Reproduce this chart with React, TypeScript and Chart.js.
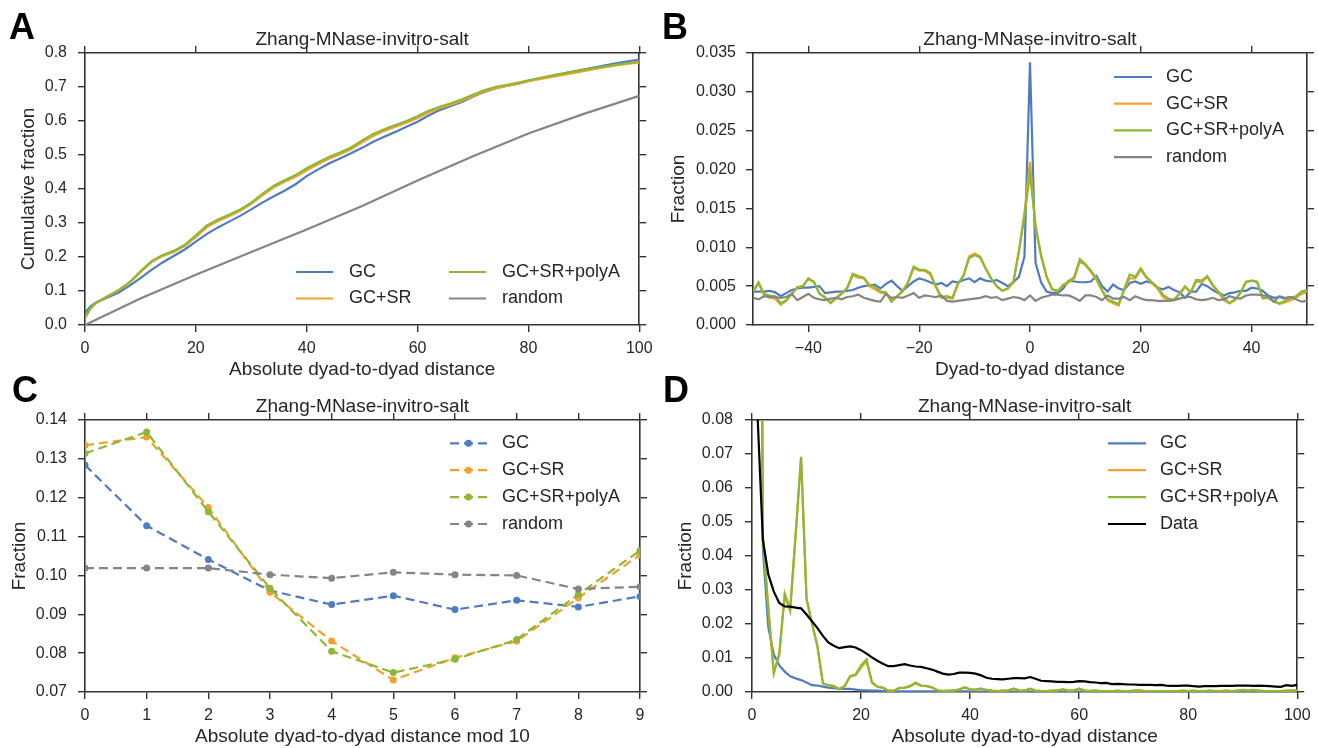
import React, { useEffect, useRef } from 'react';
import { Chart, registerables } from 'chart.js';

Chart.register(...registerables);

const FONT = "'Liberation Sans', Arial, Helvetica, sans-serif";
const TEXT = '#262626';
const SPINE = '#333333';
const BLUE = '#4f7cc0';
const ORANGE = '#f2a12a';
const GREEN = '#8cb834';
const GRAY = '#858585';
const BLACK = '#000000';
const LABEL_SIZE = 19;

const PANEL_TITLE = 'Zhang-MNase-invitro-salt';
const SERIES_NAMES = ['GC', 'GC+SR', 'GC+SR+polyA', 'random'];
const D_SERIES_NAMES = ['GC', 'GC+SR', 'GC+SR+polyA', 'Data'];

// ---------- Panel A : cumulative fraction ----------
const A_X = [0, 1, 2, 4, 6, 8, 10, 12, 14, 16, 18, 20, 22, 24, 26, 28, 30, 32, 34, 36, 38, 40, 42, 44, 46, 48, 50, 52, 54, 56, 58, 60, 62, 64, 66, 68, 70, 72, 74, 76, 78, 80, 84, 88, 92, 96, 100];
const A_GC = [0.035, 0.055, 0.066, 0.08, 0.095, 0.115, 0.138, 0.162, 0.184, 0.203, 0.222, 0.245, 0.268, 0.287, 0.304, 0.321, 0.34, 0.36, 0.378, 0.395, 0.414, 0.438, 0.457, 0.475, 0.49, 0.505, 0.521, 0.539, 0.554, 0.568, 0.583, 0.598, 0.616, 0.632, 0.644, 0.656, 0.671, 0.685, 0.696, 0.703, 0.709, 0.718, 0.732, 0.745, 0.758, 0.77, 0.781];
const A_GCSR = [0.02, 0.048, 0.064, 0.083, 0.101, 0.123, 0.155, 0.185, 0.203, 0.215, 0.232, 0.259, 0.288, 0.306, 0.32, 0.336, 0.356, 0.381, 0.404, 0.421, 0.436, 0.455, 0.473, 0.489, 0.502, 0.517, 0.537, 0.556, 0.571, 0.583, 0.595, 0.609, 0.625, 0.638, 0.648, 0.66, 0.673, 0.686, 0.696, 0.703, 0.709, 0.717, 0.729, 0.741, 0.753, 0.764, 0.772];
const A_POLYA = [0.022, 0.05, 0.066, 0.084, 0.102, 0.125, 0.158, 0.188, 0.206, 0.218, 0.236, 0.264, 0.293, 0.31, 0.324, 0.34, 0.36, 0.386, 0.409, 0.426, 0.441, 0.461, 0.478, 0.494, 0.507, 0.522, 0.543, 0.562, 0.576, 0.588, 0.6, 0.614, 0.63, 0.642, 0.652, 0.664, 0.677, 0.69, 0.7, 0.706, 0.712, 0.72, 0.733, 0.745, 0.756, 0.766, 0.775];
const A_RANDOM_X = [0, 10, 20, 30, 40, 50, 60, 70, 80, 90, 100];
const A_RANDOM = [0.0, 0.078, 0.148, 0.215, 0.281, 0.35, 0.425, 0.496, 0.563, 0.621, 0.674];
const A_XTICKS = [0, 20, 40, 60, 80, 100];
const A_YTICKS = [0, 0.1, 0.2, 0.3, 0.4, 0.5, 0.6, 0.7, 0.8];

// ---------- Panel B : dyad-to-dyad distance ----------
const B_X = [-50, -49, -48, -47, -46, -45, -44, -43, -42, -41, -40, -39, -38, -37, -36, -35, -34, -33, -32, -31, -30, -29, -28, -27, -26, -25, -24, -23, -22, -21, -20, -19, -18, -17, -16, -15, -14, -13, -12, -11, -10, -9, -8, -7, -6, -5, -4, -3, -2, -1, 0, 1, 2, 3, 4, 5, 6, 7, 8, 9, 10, 11, 12, 13, 14, 15, 16, 17, 18, 19, 20, 21, 22, 23, 24, 25, 26, 27, 28, 29, 30, 31, 32, 33, 34, 35, 36, 37, 38, 39, 40, 41, 42, 43, 44, 45, 46, 47, 48, 49, 50];
const B_GC = [
  0.0043, 0.0043, 0.0043, 0.0044, 0.0042, 0.0037, 0.0041, 0.0045, 0.0047, 0.0048,
  0.0048, 0.0049, 0.0050, 0.0041, 0.0042, 0.0043, 0.0043, 0.0044, 0.0045, 0.0048,
  0.0050, 0.0051, 0.0052, 0.0047, 0.0053, 0.0057, 0.0050, 0.0044, 0.0050, 0.0056,
  0.0060, 0.0058, 0.0055, 0.0052, 0.0054, 0.0050, 0.0056, 0.0055, 0.0058, 0.0060,
  0.0055, 0.0060, 0.0057, 0.0056, 0.0058, 0.0054, 0.0050, 0.0055, 0.0062, 0.0088,
  0.0338,
  0.0080, 0.0055, 0.0043, 0.0041, 0.0041, 0.0047, 0.0057, 0.0056, 0.0055, 0.0055,
  0.0056, 0.0063, 0.0050, 0.0043, 0.0052, 0.0047, 0.0045, 0.0054, 0.0056, 0.0053,
  0.0056, 0.0054, 0.0048, 0.0046, 0.0049, 0.0045, 0.0042, 0.0035, 0.0043, 0.0043,
  0.0053, 0.0050, 0.0045, 0.0041, 0.0038, 0.0041, 0.0042, 0.0044, 0.0044, 0.0048,
  0.0047, 0.0044, 0.0038, 0.0035, 0.0036, 0.0034, 0.0036, 0.0036, 0.0040, 0.0043,
];
const B_GCSR = [
  0.0043, 0.0053, 0.0038, 0.0035, 0.0034, 0.0026, 0.0031, 0.0040, 0.0048, 0.0050,
  0.0059, 0.0056, 0.0041, 0.0035, 0.0029, 0.0035, 0.0041, 0.0047, 0.0064, 0.0061,
  0.0060, 0.0050, 0.0046, 0.0042, 0.0040, 0.0031, 0.0037, 0.0044, 0.0055, 0.0073,
  0.0070, 0.0070, 0.0065, 0.0049, 0.0035, 0.0035, 0.0034, 0.0053, 0.0064, 0.0088,
  0.0092, 0.0088, 0.0072, 0.0059, 0.0050, 0.0044, 0.0047, 0.0056, 0.0095, 0.0145,
  0.0210,
  0.0125, 0.0088, 0.0062, 0.0046, 0.0044, 0.0051, 0.0055, 0.0060, 0.0082, 0.0077,
  0.0068, 0.0058, 0.0044, 0.0032, 0.0028, 0.0025, 0.0045, 0.0060, 0.0060, 0.0071,
  0.0061, 0.0054, 0.0047, 0.0036, 0.0031, 0.0033, 0.0040, 0.0049, 0.0042, 0.0056,
  0.0055, 0.0062, 0.0050, 0.0042, 0.0032, 0.0028, 0.0032, 0.0041, 0.0056, 0.0057,
  0.0056, 0.0034, 0.0035, 0.0031, 0.0027, 0.0029, 0.0032, 0.0035, 0.0040, 0.0044,
];
const B_POLYA = [
  0.0043, 0.0055, 0.0040, 0.0038, 0.0037, 0.0028, 0.0032, 0.0040, 0.0049, 0.0050,
  0.0060, 0.0055, 0.0040, 0.0036, 0.0028, 0.0034, 0.0040, 0.0048, 0.0066, 0.0063,
  0.0061, 0.0052, 0.0049, 0.0043, 0.0042, 0.0030, 0.0037, 0.0043, 0.0055, 0.0075,
  0.0071, 0.0071, 0.0067, 0.0050, 0.0036, 0.0037, 0.0035, 0.0053, 0.0063, 0.0086,
  0.0090, 0.0087, 0.0073, 0.0060, 0.0050, 0.0044, 0.0047, 0.0055, 0.0095, 0.0140,
  0.0195,
  0.0128, 0.0090, 0.0062, 0.0046, 0.0043, 0.0052, 0.0056, 0.0062, 0.0085, 0.0078,
  0.0070, 0.0060, 0.0045, 0.0033, 0.0030, 0.0027, 0.0046, 0.0065, 0.0062, 0.0073,
  0.0062, 0.0055, 0.0049, 0.0039, 0.0034, 0.0032, 0.0040, 0.0050, 0.0042, 0.0058,
  0.0057, 0.0063, 0.0052, 0.0043, 0.0035, 0.0028, 0.0033, 0.0042, 0.0055, 0.0057,
  0.0055, 0.0035, 0.0035, 0.0030, 0.0028, 0.0031, 0.0035, 0.0037, 0.0043, 0.0045,
];
const B_RANDOM = [
  0.0035, 0.0033, 0.0037, 0.0036, 0.0036, 0.0035, 0.0036, 0.0040, 0.0032, 0.0036,
  0.0040, 0.0035, 0.0033, 0.0032, 0.0034, 0.0035, 0.0033, 0.0036, 0.0037, 0.0039,
  0.0035, 0.0033, 0.0031, 0.0030, 0.0040, 0.0035, 0.0036, 0.0035, 0.0038, 0.0041,
  0.0035, 0.0038, 0.0037, 0.0036, 0.0038, 0.0031, 0.0030, 0.0031, 0.0032, 0.0033,
  0.0034, 0.0035, 0.0037, 0.0035, 0.0036, 0.0032, 0.0034, 0.0036, 0.0035, 0.0032,
  0.0038,
  0.0031, 0.0035, 0.0037, 0.0039, 0.0039, 0.0038, 0.0038, 0.0035, 0.0031, 0.0038,
  0.0038, 0.0036, 0.0032, 0.0038, 0.0034, 0.0034, 0.0036, 0.0032, 0.0037, 0.0034,
  0.0032, 0.0032, 0.0031, 0.0031, 0.0031, 0.0032, 0.0034, 0.0036, 0.0036, 0.0033,
  0.0032, 0.0033, 0.0035, 0.0032, 0.0033, 0.0037, 0.0035, 0.0034, 0.0038, 0.0039,
  0.0039, 0.0038, 0.0037, 0.0030, 0.0037, 0.0035, 0.0036, 0.0033, 0.0030, 0.0031,
];
const B_XTICKS = [-40, -20, 0, 20, 40];
const B_YTICKS = [0, 0.005, 0.01, 0.015, 0.02, 0.025, 0.03, 0.035];

// ---------- Panel C : distance mod 10 ----------
const C_X = [0, 1, 2, 3, 4, 5, 6, 7, 8, 9];
const C_GC = [0.1284, 0.1128, 0.1041, 0.0961, 0.0925, 0.0948, 0.0912, 0.0936, 0.0919, 0.0946];
const C_GCSR = [0.1335, 0.1356, 0.1175, 0.0957, 0.0831, 0.0731, 0.0788, 0.0831, 0.0942, 0.1053];
const C_POLYA = [0.1314, 0.1369, 0.1164, 0.0967, 0.0805, 0.0750, 0.0784, 0.0835, 0.0951, 0.1064];
const C_RANDOM = [0.1019, 0.1019, 0.1019, 0.1002, 0.0993, 0.1008, 0.1002, 0.1000, 0.0965, 0.0971];
const C_XTICKS = [0, 1, 2, 3, 4, 5, 6, 7, 8, 9];
const C_YTICKS = [0.07, 0.08, 0.09, 0.1, 0.11, 0.12, 0.13, 0.14];

// ---------- Panel D : absolute distance ----------
const D_X = [1, 2, 3, 4, 5, 6, 7, 8, 9, 10, 11, 12, 13, 14, 15, 16, 17, 18, 19, 20, 21, 22, 23, 24, 25, 26, 27, 28, 29, 30, 31, 32, 33, 34, 35, 36, 37, 38, 39, 40, 41, 42, 43, 44, 45, 46, 47, 48, 49, 50, 51, 52, 53, 54, 55, 56, 57, 58, 59, 60, 61, 62, 63, 64, 65, 66, 67, 68, 69, 70, 71, 72, 73, 74, 75, 76, 77, 78, 79, 80, 81, 82, 83, 84, 85, 86, 87, 88, 89, 90, 91, 92, 93, 94, 95, 96, 97, 98, 99, 100];
const D_GC = [
  0.30, 0.042, 0.019, 0.011, 0.0078, 0.0060, 0.0046, 0.0040, 0.0035, 0.0028,
  0.0020, 0.0019, 0.0016, 0.0013, 0.0011, 0.0009, 0.0009, 0.0009, 0.0007, 0.0005,
  0.0005, 0.0004, 0.0004, 0.0003, 0.0003, 0.0003, 0.0002, 0.0002, 0.0002, 0.0002,
  0.0002, 0.0002, 0.0002, 0.0002, 0.0002, 0.0002, 0.0002, 0.0002, 0.0002, 0.0002,
  0.0001, 0.0001, 0.0001, 0.0001, 0.0001, 0.0001, 0.0001, 0.0001, 0.0001, 0.0001,
  0.0001, 0.0001, 0.0001, 0.0001, 0.0001, 0.0001, 0.0001, 0.0001, 0.0001, 0.0001,
  0.0001, 0.0001, 0.0001, 0.0001, 0.0001, 0.0001, 0.0001, 0.0001, 0.0001, 0.0001,
  0.0001, 0.0001, 0.0001, 0.0001, 0.0001, 0.0001, 0.0001, 0.0001, 0.0001, 0.0001,
  0.0001, 0.0001, 0.0001, 0.0001, 0.0001, 0.0001, 0.0001, 0.0001, 0.0001, 0.0001,
  0.0001, 0.0001, 0.0001, 0.0001, 0.0001, 0.0001, 0.0001, 0.0001, 0.0001, 0.0001,
];
const D_GCSR = [
  0.30, 0.046, 0.025, 0.0057, 0.0110, 0.0290, 0.0245, 0.0465, 0.0690, 0.0272,
  0.0200, 0.0133, 0.0025, 0.0019, 0.0017, 0.0008, 0.0017, 0.0045, 0.0049, 0.0072,
  0.0091, 0.0027, 0.0015, 0.0012, 0.0004, 0.0004, 0.0011, 0.0012, 0.0016, 0.0025,
  0.0018, 0.0017, 0.0013, 0.0005, 0.0003, 0.0004, 0.0005, 0.0007, 0.0013, 0.0008,
  0.0007, 0.0010, 0.0006, 0.0004, 0.0003, 0.0004, 0.0005, 0.0010, 0.0005, 0.0004,
  0.0010, 0.0004, 0.0003, 0.0003, 0.0004, 0.0005, 0.0008, 0.0004, 0.0005, 0.0010,
  0.0004, 0.0003, 0.0005, 0.0002, 0.0003, 0.0002, 0.0004, 0.0003, 0.0002, 0.0004,
  0.0005, 0.0003, 0.0002, 0.0003, 0.0002, 0.0003, 0.0002, 0.0003, 0.0004, 0.0003,
  0.0004, 0.0002, 0.0003, 0.0004, 0.0003, 0.0003, 0.0004, 0.0003, 0.0004, 0.0006,
  0.0005, 0.0006, 0.0004, 0.0003, 0.0002, 0.0003, 0.0003, 0.0004, 0.0004, 0.0005,
];
const D_POLYA = [
  0.30, 0.045, 0.024, 0.0055, 0.0112, 0.0284, 0.0238, 0.0460, 0.0692, 0.0276,
  0.0203, 0.0136, 0.0026, 0.0020, 0.0018, 0.0008, 0.0018, 0.0047, 0.0051, 0.0078,
  0.0096, 0.0029, 0.0016, 0.0013, 0.0004, 0.0004, 0.0012, 0.0013, 0.0018, 0.0028,
  0.0019, 0.0018, 0.0014, 0.0005, 0.0003, 0.0004, 0.0005, 0.0007, 0.0014, 0.0008,
  0.0007, 0.0010, 0.0006, 0.0004, 0.0003, 0.0004, 0.0005, 0.0010, 0.0005, 0.0004,
  0.0010, 0.0004, 0.0003, 0.0003, 0.0004, 0.0005, 0.0008, 0.0004, 0.0005, 0.0010,
  0.0004, 0.0003, 0.0005, 0.0002, 0.0003, 0.0002, 0.0004, 0.0003, 0.0002, 0.0004,
  0.0005, 0.0003, 0.0002, 0.0003, 0.0002, 0.0003, 0.0002, 0.0003, 0.0004, 0.0003,
  0.0004, 0.0002, 0.0003, 0.0004, 0.0003, 0.0003, 0.0004, 0.0003, 0.0004, 0.0006,
  0.0005, 0.0006, 0.0004, 0.0003, 0.0002, 0.0003, 0.0003, 0.0004, 0.0004, 0.0005,
];
const D_DATA = [
  0.082, 0.0447, 0.0345, 0.0295, 0.0262, 0.0252, 0.0251, 0.0248, 0.0246, 0.0228,
  0.0208, 0.0188, 0.0165, 0.0146, 0.0136, 0.0129, 0.0132, 0.0134, 0.0131, 0.0123,
  0.0113, 0.0102, 0.0092, 0.0083, 0.0076, 0.0076, 0.0079, 0.0082, 0.0078, 0.0075,
  0.0074, 0.0070, 0.0066, 0.0060, 0.0054, 0.0051, 0.0053, 0.0057, 0.0057, 0.0056,
  0.0054, 0.0049, 0.0042, 0.0039, 0.0038, 0.0037, 0.0039, 0.0041, 0.0041, 0.0040,
  0.0044, 0.0039, 0.0033, 0.0032, 0.0031, 0.0030, 0.0030, 0.0029, 0.0030, 0.0032,
  0.0031, 0.0029, 0.0028, 0.0026, 0.0027, 0.0023, 0.0024, 0.0023, 0.0022, 0.0022,
  0.0021, 0.0021, 0.0021, 0.0020, 0.0021, 0.0019, 0.0018, 0.0018, 0.0019, 0.0019,
  0.0017, 0.0016, 0.0017, 0.0017, 0.0017, 0.0018, 0.0018, 0.0018, 0.0019, 0.0019,
  0.0019, 0.0018, 0.0019, 0.0018, 0.0017, 0.0016, 0.0015, 0.0020, 0.0018, 0.0021,
];
const D_XTICKS = [0, 20, 40, 60, 80, 100];
const D_YTICKS = [0, 0.01, 0.02, 0.03, 0.04, 0.05, 0.06, 0.07, 0.08];

// ---------- helpers ----------
const pts = (xs: number[], ys: number[]) => xs.map((x, i) => ({ x, y: ys[i] }));
const minus = (v: number) => (v < 0 ? '\u2212' + Math.abs(v) : String(v));

type Frame = {
  w: number; h: number; left: number; right: number; top: number; bottom: number;
  titlePadTop: number; xTitlePad: number; yTitlePad: number; yTickPad: number;
};
type AxisSpec = {
  xMin: number; xMax: number; xTicks: number[]; xFmt: (v: number) => string; xTitle: string;
  yMin: number; yMax: number; yTicks: number[]; yFmt: (v: number) => string; yTitle: string;
};

function buildScales(f: Frame, a: AxisSpec) {
  const grid = { display: true, drawOnChartArea: false, drawTicks: true, tickLength: 7, color: SPINE, tickColor: SPINE, lineWidth: 1.4, tickWidth: 1.4 };
  const border = { display: true, color: SPINE, width: 1.6 };
  const tickFont = { family: FONT, size: 16 };
  const labelFont = { family: FONT, size: LABEL_SIZE };
  const titleH = f.titlePadTop + LABEL_SIZE * 1.2;
  const setX = (s: any) => { s.ticks = a.xTicks.map((v) => ({ value: v })); };
  const setY = (s: any) => { s.ticks = a.yTicks.map((v) => ({ value: v })); };
  return {
    x: {
      type: 'linear', position: 'bottom', min: a.xMin, max: a.xMax, afterBuildTicks: setX, grid, border,
      ticks: { font: tickFont, color: TEXT, padding: 7.4, maxRotation: 0, autoSkip: false, callback: (v: any) => a.xFmt(Number(v)) },
      title: { display: true, text: a.xTitle, font: labelFont, color: TEXT, padding: { top: 0, bottom: f.xTitlePad } },
      afterFit: (s: any) => { s.height = f.h - f.bottom; },
    },
    x2: {
      type: 'linear', position: 'top', min: a.xMin, max: a.xMax, afterBuildTicks: setX, grid, border,
      ticks: { display: false },
      afterFit: (s: any) => { s.height = Math.max(0, f.top - titleH); },
    },
    y: {
      type: 'linear', position: 'left', min: a.yMin, max: a.yMax, afterBuildTicks: setY, grid, border,
      ticks: { font: tickFont, color: TEXT, padding: f.yTickPad, autoSkip: false, callback: (v: any) => a.yFmt(Number(v)) },
      title: { display: true, text: a.yTitle, font: labelFont, color: TEXT, padding: { top: f.yTitlePad, bottom: 0 } },
      afterFit: (s: any) => { s.width = f.left; },
    },
    y2: {
      type: 'linear', position: 'right', min: a.yMin, max: a.yMax, afterBuildTicks: setY, grid, border,
      ticks: { display: false },
      afterFit: (s: any) => { s.width = f.w - f.right; },
    },
  };
}

const insideLegend = {
  id: 'insideLegend',
  afterDraw(chart: any, _args: any, opts: any) {
    if (!opts || !opts.rows) return;
    const ctx = chart.ctx as CanvasRenderingContext2D;
    ctx.save();
    ctx.font = `18px ${FONT}`;
    ctx.textBaseline = 'middle';
    ctx.textAlign = 'left';
    chart.data.datasets.forEach((d: any, i: number) => {
      const col = Math.floor(i / opts.rows);
      const row = i % opts.rows;
      const x0 = opts.x + col * (opts.colStep || 0);
      const y = opts.y + row * opts.rowStep;
      ctx.strokeStyle = d.borderColor;
      ctx.lineWidth = d.borderWidth;
      ctx.setLineDash(d.borderDash || []);
      ctx.beginPath();
      ctx.moveTo(x0, y);
      ctx.lineTo(x0 + opts.lineLen, y);
      ctx.stroke();
      ctx.setLineDash([]);
      if (d.pointRadius) {
        ctx.fillStyle = d.borderColor;
        ctx.beginPath();
        ctx.arc(x0 + opts.lineLen / 2, y, d.pointRadius, 0, Math.PI * 2);
        ctx.fill();
      }
      ctx.fillStyle = TEXT;
      ctx.fillText(d.label, x0 + opts.lineLen + opts.gap, y);
    });
    ctx.restore();
  },
};

function lineSet(label: string, data: any[], color: string, order: number, dashed = false) {
  return {
    label, data, borderColor: color, backgroundColor: color, borderWidth: 2.2,
    pointRadius: dashed ? 3.5 : 0, pointBorderWidth: 0, pointBackgroundColor: color,
    borderDash: dashed ? [9, 5] : [], tension: 0, fill: false, order,
  };
}

function makeConfig(f: Frame, a: AxisSpec, datasets: any[], legend: any) {
  return {
    type: 'line',
    data: { datasets },
    options: {
      responsive: false, animation: false, events: [],
      layout: { padding: 0 },
      scales: buildScales(f, a),
      plugins: {
        legend: { display: false },
        tooltip: { enabled: false },
        title: {
          display: true, text: PANEL_TITLE, fullSize: false, color: TEXT,
          font: { family: FONT, size: LABEL_SIZE, weight: 'normal' },
          padding: { top: f.titlePadTop, bottom: 0 },
        },
        insideLegend: legend,
      },
    },
    plugins: [insideLegend],
  } as any;
}

const FRAME_A: Frame = { w: 660, h: 385, left: 85, right: 640, top: 53, bottom: 325, titlePadTop: 28.3, xTitlePad: 4.1, yTitlePad: 16.9, yTickPad: 11 };
const FRAME_B: Frame = { w: 658, h: 385, left: 93, right: 647, top: 53, bottom: 325, titlePadTop: 28.3, xTitlePad: 4.1, yTitlePad: 7.6, yTickPad: 10 };
const FRAME_C: Frame = { w: 660, h: 363, left: 85, right: 640, top: 35, bottom: 307, titlePadTop: 10.6, xTitlePad: 0, yTitlePad: 8, yTickPad: 11 };
const FRAME_D: Frame = { w: 658, h: 363, left: 92, right: 642, top: 35, bottom: 307, titlePadTop: 10.6, xTitlePad: 0, yTitlePad: 14.6, yTickPad: 12 };

export default function App() {
  const refA = useRef<HTMLCanvasElement>(null);
  const refB = useRef<HTMLCanvasElement>(null);
  const refC = useRef<HTMLCanvasElement>(null);
  const refD = useRef<HTMLCanvasElement>(null);

  useEffect(() => {
    const charts: Chart[] = [];
    charts.push(new Chart(refA.current!, makeConfig(FRAME_A, {
      xMin: 0, xMax: 100, xTicks: A_XTICKS, xFmt: (v) => String(v), xTitle: 'Absolute dyad-to-dyad distance',
      yMin: 0, yMax: 0.8, yTicks: A_YTICKS, yFmt: (v) => v.toFixed(1), yTitle: 'Cumulative fraction',
    }, [
      lineSet(SERIES_NAMES[0], pts(A_X, A_GC), BLUE, 3),
      lineSet(SERIES_NAMES[1], pts(A_X, A_GCSR), ORANGE, 2),
      lineSet(SERIES_NAMES[2], pts(A_X, A_POLYA), GREEN, 1),
      lineSet(SERIES_NAMES[3], pts(A_RANDOM_X, A_RANDOM), GRAY, 0),
    ], { rows: 2, x: 296, y: 272, rowStep: 26.5, colStep: 153, lineLen: 37, gap: 16 })));

    charts.push(new Chart(refB.current!, makeConfig(FRAME_B, {
      xMin: -50, xMax: 50, xTicks: B_XTICKS, xFmt: minus, xTitle: 'Dyad-to-dyad distance',
      yMin: 0, yMax: 0.035, yTicks: B_YTICKS, yFmt: (v) => v.toFixed(3), yTitle: 'Fraction',
    }, [
      lineSet(SERIES_NAMES[0], pts(B_X, B_GC), BLUE, 3),
      lineSet(SERIES_NAMES[1], pts(B_X, B_GCSR), ORANGE, 2),
      lineSet(SERIES_NAMES[2], pts(B_X, B_POLYA), GREEN, 1),
      lineSet(SERIES_NAMES[3], pts(B_X, B_RANDOM), GRAY, 0),
    ], { rows: 4, x: 454, y: 77, rowStep: 26.7, lineLen: 38, gap: 14 })));

    charts.push(new Chart(refC.current!, makeConfig(FRAME_C, {
      xMin: 0, xMax: 9, xTicks: C_XTICKS, xFmt: (v) => String(v), xTitle: 'Absolute dyad-to-dyad distance mod 10',
      yMin: 0.07, yMax: 0.14, yTicks: C_YTICKS, yFmt: (v) => v.toFixed(2), yTitle: 'Fraction',
    }, [
      lineSet(SERIES_NAMES[0], pts(C_X, C_GC), BLUE, 3, true),
      lineSet(SERIES_NAMES[1], pts(C_X, C_GCSR), ORANGE, 2, true),
      lineSet(SERIES_NAMES[2], pts(C_X, C_POLYA), GREEN, 1, true),
      lineSet(SERIES_NAMES[3], pts(C_X, C_RANDOM), GRAY, 0, true),
    ], { rows: 4, x: 450, y: 58.3, rowStep: 26.9, lineLen: 37, gap: 15 })));

    charts.push(new Chart(refD.current!, makeConfig(FRAME_D, {
      xMin: 0, xMax: 100, xTicks: D_XTICKS, xFmt: (v) => String(v), xTitle: 'Absolute dyad-to-dyad distance',
      yMin: 0, yMax: 0.08, yTicks: D_YTICKS, yFmt: (v) => v.toFixed(2), yTitle: 'Fraction',
    }, [
      lineSet(D_SERIES_NAMES[0], pts(D_X, D_GC), BLUE, 3),
      lineSet(D_SERIES_NAMES[1], pts(D_X, D_GCSR), ORANGE, 2),
      lineSet(D_SERIES_NAMES[2], pts(D_X, D_POLYA), GREEN, 1),
      lineSet(D_SERIES_NAMES[3], pts(D_X, D_DATA), BLACK, 0),
    ], { rows: 4, x: 448, y: 58.3, rowStep: 26.9, lineLen: 38, gap: 14 })));

    return () => { charts.forEach((c) => c.destroy()); };
  }, []);

  const letter = (t: string, left: number, top: number) => (
    <span style={{ position: 'absolute', left, top, font: `bold 36px/36px ${FONT}`, color: '#000' }}>{t}</span>
  );

  return (
    <div style={{ position: 'fixed', left: 0, top: 0, width: 1318, height: 748, background: '#fff', overflow: 'hidden' }}>
      <canvas ref={refA} width={660} height={385} style={{ position: 'absolute', left: 0, top: 0 }} />
      <canvas ref={refB} width={658} height={385} style={{ position: 'absolute', left: 660, top: 0 }} />
      <canvas ref={refC} width={660} height={363} style={{ position: 'absolute', left: 0, top: 385 }} />
      <canvas ref={refD} width={658} height={363} style={{ position: 'absolute', left: 660, top: 385 }} />
      {letter('A', 9, 8.8)}
      {letter('B', 662, 8.8)}
      {letter('C', 12, 371.8)}
      {letter('D', 663, 371.8)}
    </div>
  );
}
